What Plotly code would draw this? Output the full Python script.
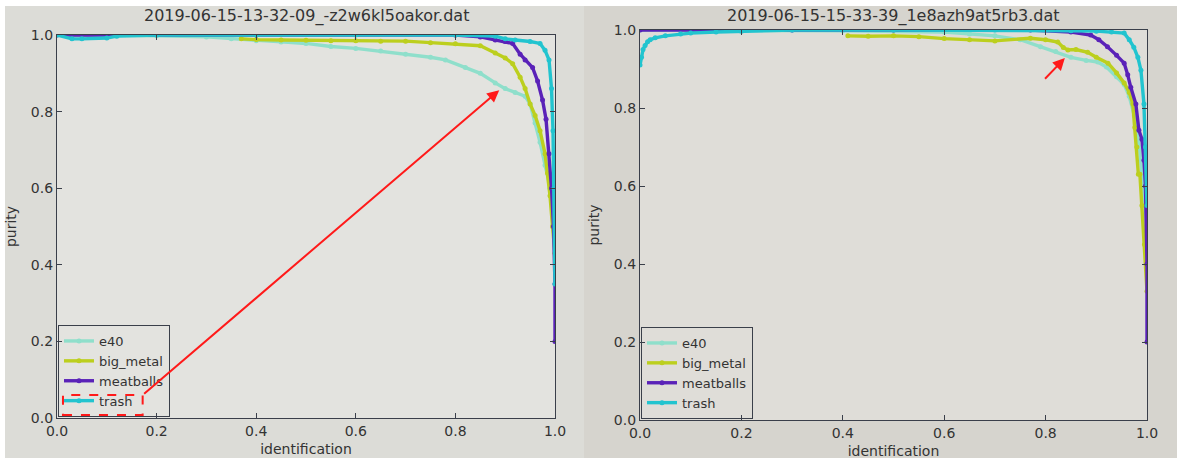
import plotly.graph_objects as go

# Run 1: 2019-06-15-13-32-09_-z2w6kl5oakor.dat
run1_title = "2019-06-15-13-32-09_-z2w6kl5oakor.dat"
run1_e40_x = [0.0, 0.1, 0.2, 0.3, 0.35, 0.4, 0.45, 0.5, 0.55, 0.6, 0.65, 0.7, 0.75, 0.78, 0.82,
              0.85, 0.88, 0.9, 0.92, 0.94, 0.95, 0.96, 0.97, 0.98, 0.99, 1.0]
run1_e40_y = [1.0, 1.0, 0.998, 0.995, 0.99, 0.985, 0.982, 0.978, 0.97, 0.965, 0.958, 0.95, 0.942,
              0.935, 0.915, 0.9, 0.875, 0.86, 0.85, 0.84, 0.82, 0.77, 0.72, 0.66, 0.6, 0.55]
run1_metal_x = [0.37, 0.4, 0.45, 0.5, 0.55, 0.6, 0.65, 0.7, 0.75, 0.8, 0.85, 0.88, 0.9, 0.915,
                0.93, 0.94, 0.95, 0.96, 0.97, 0.98, 0.985, 0.99, 0.995, 1.0]
run1_metal_y = [0.99, 0.988, 0.987, 0.986, 0.985, 0.985, 0.984, 0.984, 0.98, 0.977, 0.972, 0.953,
                0.94, 0.925, 0.89, 0.86, 0.82, 0.79, 0.75, 0.69, 0.64, 0.58, 0.5, 0.43]
run1_meat_x = [0.0, 0.4, 0.8, 0.85, 0.88, 0.9, 0.915, 0.93, 0.94, 0.955, 0.965, 0.975, 0.982,
               0.988, 0.993, 0.997, 1.0, 1.0]
run1_meat_y = [1.0, 1.0, 1.0, 0.995, 0.987, 0.983, 0.978, 0.95, 0.935, 0.915, 0.88, 0.83, 0.78,
               0.69, 0.6, 0.5, 0.35, 0.2]
run1_trash_x = [0.0, 0.03, 0.05, 0.1, 0.12, 0.2, 0.4, 0.6, 0.8, 0.88, 0.9, 0.92, 0.95, 0.97,
                0.98, 0.988, 0.993, 0.996, 0.998, 1.0]
run1_trash_y = [1.0, 0.99, 0.99, 0.992, 0.997, 1.0, 1.0, 1.0, 1.0, 0.997, 0.99, 0.987, 0.983,
                0.978, 0.96, 0.935, 0.86, 0.75, 0.6, 0.35]

# Run 2: 2019-06-15-15-33-39_1e8azh9at5rb3.dat
run2_title = "2019-06-15-15-33-39_1e8azh9at5rb3.dat"
run2_e40_x = [0.0, 0.2, 0.4, 0.6, 0.65, 0.7, 0.75, 0.79, 0.82, 0.85, 0.88, 0.903, 0.92, 0.94,
              0.955, 0.965, 0.975, 0.985, 0.993, 1.0]
run2_e40_y = [1.0, 1.0, 0.998, 0.995, 0.99, 0.985, 0.975, 0.957, 0.945, 0.93, 0.922, 0.918,
              0.905, 0.88, 0.86, 0.83, 0.78, 0.7, 0.6, 0.5]
run2_metal_x = [0.41, 0.45, 0.5, 0.55, 0.6, 0.65, 0.7, 0.77, 0.8, 0.824, 0.835, 0.844, 0.86,
                0.883, 0.9, 0.923, 0.94, 0.955, 0.965, 0.972, 0.976, 0.98, 0.983, 0.986, 0.99,
                0.995, 1.0]
run2_metal_y = [0.985, 0.984, 0.985, 0.983, 0.978, 0.975, 0.972, 0.979, 0.975, 0.969, 0.955,
                0.949, 0.95, 0.943, 0.93, 0.915, 0.89, 0.864, 0.84, 0.81, 0.75, 0.7, 0.63, 0.63,
                0.55, 0.45, 0.33]
run2_meat_x = [0.0, 0.1, 0.3, 0.5, 0.77, 0.85, 0.889, 0.905, 0.922, 0.94, 0.955, 0.962, 0.968,
               0.978, 0.984, 0.99, 0.994, 0.997, 1.0, 1.0]
run2_meat_y = [1.0, 1.0, 1.0, 1.0, 1.0, 0.995, 0.987, 0.975, 0.957, 0.935, 0.915, 0.885, 0.853,
               0.81, 0.743, 0.72, 0.666, 0.6, 0.4, 0.2]
run2_trash_x = [0.0, 0.003, 0.006, 0.01, 0.015, 0.02, 0.03, 0.05, 0.08, 0.1, 0.15, 0.2, 0.3,
                0.5, 0.7, 0.85, 0.9, 0.93, 0.955, 0.965, 0.974, 0.982, 0.988, 0.994, 0.997, 1.0]
run2_trash_y = [0.91, 0.93, 0.95, 0.96, 0.97, 0.975, 0.98, 0.985, 0.99, 0.992, 0.995, 0.997,
                1.0, 1.0, 1.0, 0.998, 0.997, 0.995, 0.992, 0.975, 0.956, 0.93, 0.897, 0.81,
                0.7, 0.55]

labels = ["e40", "big_metal", "meatballs", "trash"]
colors = ["#8fdfcb", "#bccf1e", "#5a22b8", "#22c4cf"]
tick_vals = [0.0, 0.2, 0.4, 0.6, 0.8, 1.0]

FONT = "DejaVu Sans"
TXT = "#333333"
AXC = "#3a3f4a"
W, H = 1177, 461

fig = go.Figure()

runs = [
    ("x", "y", "legend", [(run1_e40_x, run1_e40_y), (run1_metal_x, run1_metal_y),
                           (run1_meat_x, run1_meat_y), (run1_trash_x, run1_trash_y)]),
    ("x2", "y2", "legend2", [(run2_e40_x, run2_e40_y), (run2_metal_x, run2_metal_y),
                              (run2_meat_x, run2_meat_y), (run2_trash_x, run2_trash_y)]),
]
for xa, ya, lg, series in runs:
    for (xs, ys), name, col in zip(series, labels, colors):
        fig.add_trace(go.Scatter(
            x=xs, y=ys, name=name, mode="lines+markers",
            line=dict(color=col, width=3.4),
            marker=dict(color=col, size=5),
            xaxis=xa, yaxis=ya, legend=lg, showlegend=True,
        ))

axis_common = dict(
    range=[0, 1], tickvals=tick_vals, ticktext=[f"{v:.1f}" for v in tick_vals],
    showgrid=False, zeroline=False, showline=True, linecolor=AXC, linewidth=1.3,
    mirror="ticks", ticks="inside", ticklen=5, tickcolor=AXC, automargin=False,
    tickfont=dict(family=FONT, size=14, color=TXT),
)
title_font = dict(family=FONT, size=14, color=TXT)

legend_common = dict(
    bgcolor="rgba(0,0,0,0)", bordercolor=AXC, borderwidth=1,
    font=dict(family=FONT, size=13, color=TXT),
    xanchor="left", yanchor="bottom", tracegroupgap=0, itemwidth=30,
)

# panel extents in pixels: (photo left, photo right, plot left, plot right, plot top, plot bottom)
left_px = (5, 584, 57, 555, 35, 418)
right_px = (584, 1177, 640, 1147, 30, 420)


def xf(px):
    return px / W


def yf(py):
    return (H - py) / H


fig.update_layout(
    template="none",
    width=W, height=H,
    margin=dict(l=0, r=0, t=0, b=0),
    paper_bgcolor="white", plot_bgcolor="rgba(0,0,0,0)",
    xaxis=dict(domain=[xf(left_px[2]), xf(left_px[3])], anchor="y",
               title=dict(text="identification", font=title_font, standoff=6), **axis_common),
    yaxis=dict(domain=[yf(left_px[5]), yf(left_px[4])], anchor="x",
               title=dict(text="purity", font=title_font, standoff=10), **axis_common),
    xaxis2=dict(domain=[xf(right_px[2]), xf(right_px[3])], anchor="y2",
                title=dict(text="identification", font=title_font, standoff=6), **axis_common),
    yaxis2=dict(domain=[yf(right_px[5]), yf(right_px[4])], anchor="x2",
                title=dict(text="purity", font=title_font, standoff=10), **axis_common),
    legend=dict(x=xf(left_px[2] + 1), y=yf(left_px[5] - 1), **legend_common),
    legend2=dict(x=xf(right_px[2] + 1), y=yf(right_px[5] - 1), **legend_common),
    shapes=[
        # photographed panels
        dict(type="rect", xref="paper", yref="paper", x0=xf(left_px[0]), x1=xf(left_px[1]),
             y0=yf(458), y1=yf(6), fillcolor="#dcdcd7", opacity=1,
             line=dict(width=0), layer="below"),
        dict(type="rect", xref="paper", yref="paper", x0=xf(right_px[0]), x1=xf(right_px[1]),
             y0=yf(458), y1=yf(6), fillcolor="#d6d4ce", opacity=1,
             line=dict(width=0), layer="below"),
        # plot areas
        dict(type="rect", xref="x domain", yref="y domain", x0=0, x1=1, y0=0, y1=1,
             fillcolor="#e3e3df", opacity=1, line=dict(width=0), layer="below"),
        dict(type="rect", xref="x2 domain", yref="y2 domain", x0=0, x1=1, y0=0, y1=1,
             fillcolor="#dfddd8", opacity=1, line=dict(width=0), layer="below"),
        # dashed highlight around the "trash" legend entry
        dict(type="rect", xref="x", yref="y", x0=0.012, x1=0.172, y0=0.008, y1=0.06,
             fillcolor="rgba(0,0,0,0)", opacity=1,
             line=dict(color="#ff1a1a", width=2, dash="dash"), layer="above"),
    ],
    annotations=[
        dict(text=run1_title, xref="paper", yref="paper", x=xf(306), y=yf(16),
             xanchor="center", yanchor="middle",
             showarrow=False, font=dict(family=FONT, size=16, color=TXT)),
        dict(text=run2_title, xref="paper", yref="paper", x=xf(893), y=yf(16),
             xanchor="center", yanchor="middle",
             showarrow=False, font=dict(family=FONT, size=16, color=TXT)),
        dict(text="", xref="x", yref="y", x=0.888, y=0.856, ax=0.172, ay=0.06,
             axref="x", ayref="y", showarrow=True, arrowhead=2, arrowsize=1.2,
             arrowwidth=2, arrowcolor="#ff1a1a"),
        dict(text="", xref="x2", yref="y2", x=0.838, y=0.928, ax=0.796, ay=0.871,
             axref="x2", ayref="y2", showarrow=True, arrowhead=2, arrowsize=1.2,
             arrowwidth=2, arrowcolor="#ff1a1a"),
    ],
)

fig.write_html("out.html")
